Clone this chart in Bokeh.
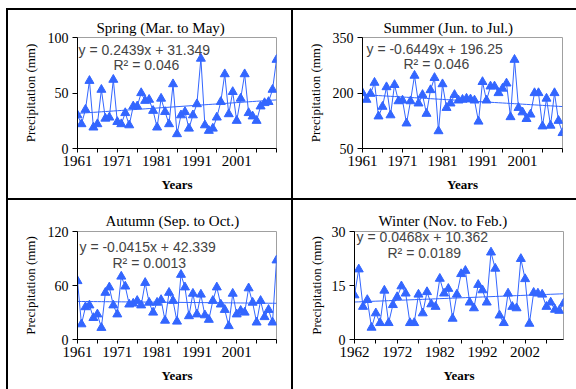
from bokeh.plotting import figure
from bokeh.models import Range1d, FixedTicker, Label, Spacer
from bokeh.layouts import row, column
from bokeh.embed import file_html
from bokeh.resources import INLINE

# ---- seasonal precipitation series (mm) ----
years_a = list(range(1961, 2012))          # spring, summer, autumn
years_w = list(range(1962, 2012))          # winter

spring = [30, 22, 35, 61, 19, 22, 53, 27, 28, 62,
          24, 22, 32, 21, 38, 38, 50, 43, 44, 34,
          19, 45, 33, 22, 58, 13, 30, 33, 18, 30,
          40, 81, 21, 16, 18, 28, 42, 67, 31, 51,
          25, 45, 67, 32, 29, 25, 38, 41, 42, 53, 80]

summer = [200, 182, 198, 228, 137, 163, 216, 140, 222, 178,
          180, 118, 178, 247, 172, 195, 144, 208, 241, 97,
          224, 160, 172, 195, 180, 182, 185, 183, 180, 123,
          230, 180, 218, 218, 200, 212, 226, 135, 290, 160,
          148, 130, 142, 200, 200, 110, 185, 112, 200, 125, 92]

autumn = [65, 17, 36, 38, 24, 28, 13, 52, 58, 38,
          28, 70, 59, 39, 40, 43, 38, 63, 41, 30,
          41, 44, 21, 52, 43, 20, 72, 58, 26, 51,
          28, 50, 27, 22, 43, 58, 39, 33, 15, 51,
          28, 32, 30, 57, 41, 19, 43, 25, 33, 19, 88]

winter = [12.3, 19.5, 9.1, 11, 3.3, 7.3, 4.6, 13.6, 4.6, 9.6,
          11.8, 14.8, 12.8, 4.6, 4.6, 12.5, 7.3, 13.2, 9.8, 9.1,
          16.9, 12.8, 14.1, 5.8, 12.5, 18.2, 19.1, 10.3, 8.7, 15.2,
          13.7, 10.3, 24.2, 19.7, 6.7, 4.6, 12.8, 9.1, 8.7, 22.4,
          16.8, 4.4, 13, 12.8, 12.5, 9.1, 10.3, 8.3, 8.0, 10.0]

titles = ["Spring (Mar. to May)", "Summer (Jun. to Jul.)",
          "Autumn (Sep. to Oct.)", "Winter (Nov. to Feb.)"]
trend_slope = [0.2439, -0.6449, -0.0415, 0.0468]
trend_intercept = [31.349, 196.25, 42.339, 10.362]
r_squared = ["0.046", "0.046", "0.0013", "0.0189"]

y_ticks = [[0, 50, 100], [50, 200, 350], [0, 60, 120], [0, 15, 30]]
x_labels_a = [1961, 1971, 1981, 1991, 2001]
x_labels_w = [1962, 1972, 1982, 1992, 2002]

BLUE = "#3366ff"
SERIF = "Liberation Serif"
SANS = "Liberation Sans"


def panel(i, years, values, height, borders, title_offset, title_standoff,
          ylab_standoff, eq_pos, r2_pos):
    left, right, top, bottom = borders
    p = figure(width=283, height=height,
               x_range=Range1d(years[0], years[-1]),
               y_range=Range1d(y_ticks[i][0], y_ticks[i][-1]),
               output_backend="svg", toolbar_location=None,
               min_border_left=left, min_border_right=right,
               min_border_top=top, min_border_bottom=bottom)
    p.xgrid.visible = False
    p.ygrid.visible = False
    p.outline_line_color = "#a0a0a0"
    p.border_fill_color = "white"

    # panel title
    p.title.text = titles[i]
    p.title.text_font = SERIF
    p.title.text_font_size = "15px"
    p.title.text_font_style = "normal"
    p.title.text_color = "black"
    p.title.align = "left"
    p.title.offset = title_offset
    p.title.standoff = title_standoff

    majors = x_labels_a if years[0] == 1961 else x_labels_w
    minors = [y for y in years if (y - years[0]) % 5 == 0 and y not in majors]
    p.xaxis.ticker = FixedTicker(ticks=majors, minor_ticks=minors)
    p.yaxis.ticker = FixedTicker(ticks=y_ticks[i], minor_ticks=[])
    for ax in (p.xaxis, p.yaxis):
        ax.axis_line_color = "black"
        ax.major_tick_line_color = "black"
        ax.minor_tick_line_color = "black"
        ax.major_tick_in = 0
        ax.minor_tick_in = 0
        ax.major_label_text_font = SERIF
        ax.major_label_text_color = "black"
        ax.axis_label_text_font = SERIF
        ax.axis_label_text_color = "black"
    p.xaxis.major_tick_out = 4
    p.xaxis.minor_tick_out = 4
    p.xaxis.major_label_text_font_size = "15px"
    p.xaxis.major_label_standoff = 3
    p.xaxis.axis_label = "Years"
    p.xaxis.axis_label_text_font_size = "13px"
    p.xaxis.axis_label_text_font_style = "bold"
    p.xaxis.axis_label_standoff = 8
    p.yaxis.major_tick_out = 5
    p.yaxis.minor_tick_out = 0
    p.yaxis.major_label_text_font_size = "14px"
    p.yaxis.major_label_standoff = 4
    p.yaxis.axis_label = "Precipitation (mm)"
    p.yaxis.axis_label_text_font_size = "13px"
    p.yaxis.axis_label_text_font_style = "normal"
    p.yaxis.axis_label_standoff = ylab_standoff

    # series and linear trend (x = 1..n as in the fitted equation)
    p.line(years, values, line_color=BLUE, line_width=1)
    p.scatter(years, values, marker="triangle", size=9,
              fill_color=BLUE, line_color=BLUE)
    idx = range(1, len(years) + 1)
    trend = [trend_slope[i] * k + trend_intercept[i] for k in idx]
    p.line(years, trend, line_color=BLUE, line_width=1)

    eq = "y = %sx + %s" % (trend_slope[i], trend_intercept[i])
    p.add_layout(Label(x=eq_pos[0], y=eq_pos[1], x_units="screen",
                       y_units="screen", text=eq, text_font=SANS,
                       text_font_size="14px",
                       text_align="left", text_baseline="middle"))
    p.add_layout(Label(x=r2_pos[0], y=r2_pos[1], x_units="screen",
                       y_units="screen", text="R\u00b2 = " + r_squared[i],
                       text_font=SANS, text_font_size="14px",
                       text_align="left", text_baseline="middle"))
    return p


p_spring = panel(0, years_a, spring, 188, (69, 15, 25, 50), 19, 3, 7,
                 (1, 99), (36, 84))
p_summer = panel(1, years_a, summer, 188, (69, 14, 27, 49), 21, 3, 7,
                 (4, 100), (41, 85))
p_autumn = panel(2, years_a, autumn, 189, (69, 15, 31, 50), 28, 6, 7,
                 (2, 93), (35, 77))
p_winter = panel(3, years_w, winter, 189, (61, 13, 28, 50), 24, 6, 5,
                 (2, 103), (33, 87))


def bar(w, h):
    return Spacer(width=w, height=h, styles={"background-color": "black"})


grid = column(
    row(p_spring, bar(2, 188), p_summer),
    bar(568, 2),
    row(p_autumn, bar(2, 189), p_winter),
)
page = column(
    Spacer(width=576, height=8),
    row(Spacer(width=6, height=2), bar(570, 2)),
    row(Spacer(width=6, height=379), bar(2, 379), grid),
)

open("out.html", "w").write(file_html(page, INLINE))
